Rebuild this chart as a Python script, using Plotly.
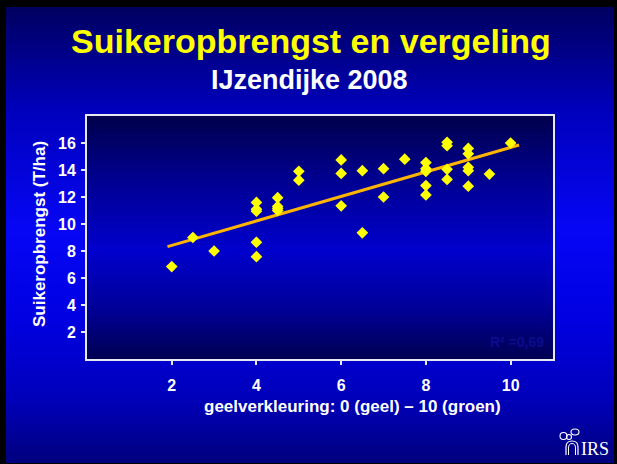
import plotly.graph_objects as go

# ---------------- data ----------------
x_vergeling = [2, 2.5, 3,
               4, 4, 4, 4, 4,
               4.5, 4.5, 4.5, 4.5,
               5, 5,
               6, 6, 6,
               6.5, 6.5,
               7, 7,
               7.5,
               8, 8, 8, 8, 8,
               8.5, 8.5, 8.5, 8.5,
               9, 9, 9, 9, 9,
               9.5,
               10]
y_opbrengst = [6.85, 9.0, 8.0,
               11.6, 11.1, 10.95, 8.65, 7.58,
               11.95, 11.3, 11.15, 11.0,
               13.9, 13.25,
               14.75, 13.75, 11.35,
               13.95, 9.35,
               14.1, 12.0,
               14.8,
               14.55, 14.1, 13.9, 12.85, 12.15,
               16.05, 15.8, 14.05, 13.3,
               15.6, 15.2, 14.2, 13.95, 12.8,
               13.7,
               16.0]
# trendline
trend_x = [1.9, 10.2]
trend_y = [8.32, 15.85]
x_tickvals = [2, 4, 6, 8, 10]
y_tickvals = [2, 4, 6, 8, 10, 12, 14, 16]
title_text = "Suikeropbrengst en vergeling"
subtitle_text = "IJzendijke 2008"
x_title = "geelverkleuring: 0 (geel) – 10 (groen)"
y_title = "Suikeropbrengst (T/ha)"
r2_text = "R² =0,69"
logo_text = "IRS"

# ---------------- layout helpers ----------------
W, H = 617, 464
L, R, T, B = 87, 64, 116, 105
PW, PH = W - L - R, H - T - B
FONT = "Liberation Sans, Arial, sans-serif"


def px(X):
    return (X - L) / PW


def py(Y):
    return (H - B - Y) / PH


def interp(stops, y):
    for (y0, c0), (y1, c1) in zip(stops[:-1], stops[1:]):
        if y0 <= y <= y1:
            t = (y - y0) / (y1 - y0)
            return tuple(int(round(a + (b - a) * t)) for a, b in zip(c0, c1))
    return stops[-1][1] if y > stops[-1][0] else stops[0][1]


shapes = []
# slide background gradient
slide_stops = [(7, (0, 0, 95)), (110, (0, 0, 188)), (230, (6, 6, 245)),
               (320, (0, 0, 225)), (400, (0, 0, 185)), (463, (0, 0, 125))]
Y = 7
while Y < 463:
    r, g, b = interp(slide_stops, Y + 1)
    shapes.append(dict(type="rect", xref="paper", yref="paper", layer="below",
                       x0=px(6), x1=px(614), y0=py(min(Y + 2.6, 463)), y1=py(Y),
                       fillcolor=f"rgb({r},{g},{b})", line=dict(width=0)))
    Y += 2
# plot-area gradient
plot_stops = [(116, (0, 0, 75)), (175, (0, 0, 140)), (250, (0, 0, 205)),
              (310, (0, 0, 150)), (360, (0, 0, 80))]
Y = 116
while Y < 359:
    r, g, b = interp(plot_stops, Y + 1)
    shapes.append(dict(type="rect", xref="paper", yref="paper", layer="below",
                       x0=0, x1=1, y0=max(py(Y + 2.6), 0), y1=py(Y),
                       fillcolor=f"rgb({r},{g},{b})", line=dict(width=0)))
    Y += 2


# IRS logo icon (simple outline drawing)
def P(a, b):
    return f"{px(a)},{py(b)}"


arch = (f"M {P(566, 455)} L {P(566, 447)} Q {P(566, 441)} {P(572, 441)} "
        f"Q {P(578, 441)} {P(578, 447)} L {P(578, 455)}")
arch_in = (f"M {P(568.5, 455)} L {P(568.5, 448)} Q {P(568.5, 443.5)} {P(572, 443.5)} "
           f"Q {P(575.5, 443.5)} {P(575.5, 448)} L {P(575.5, 455)}")
shapes.append(dict(type="path", xref="paper", yref="paper", path=arch,
                   line=dict(color="white", width=1.2)))
shapes.append(dict(type="path", xref="paper", yref="paper", path=arch_in,
                   line=dict(color="white", width=1)))
for cx, cy, rx, ry in [(563.5, 436, 3.5, 3.5), (575, 432, 4, 3), (569, 437, 2.5, 2.5)]:
    shapes.append(dict(type="circle", xref="paper", yref="paper",
                       x0=px(cx - rx), x1=px(cx + rx), y0=py(cy + ry), y1=py(cy - ry),
                       line=dict(color="white", width=1.1)))

# ---------------- figure ----------------
fig = go.Figure()
fig.add_trace(go.Scatter(x=trend_x, y=trend_y, mode="lines",
                         line=dict(color="#ffb400", width=3), hoverinfo="skip"))
fig.add_trace(go.Scatter(x=x_vergeling, y=y_opbrengst, mode="markers",
                         marker=dict(symbol="diamond", size=9, color="#ffff00",
                                     line=dict(width=0))))

annotations = [
    dict(text=f"<b>{title_text}</b>", x=px(311), y=py(41), xref="paper", yref="paper",
         showarrow=False, xanchor="center", yanchor="middle",
         font=dict(family=FONT, size=34, color="#ffff00")),
    dict(text=f"<b>{subtitle_text}</b>", x=px(309), y=py(80), xref="paper", yref="paper",
         showarrow=False, xanchor="center", yanchor="middle",
         font=dict(family=FONT, size=27, color="white")),
    dict(text=f"<b>{x_title}</b>", x=px(352), y=py(406), xref="paper", yref="paper",
         showarrow=False, xanchor="center", yanchor="middle",
         font=dict(family=FONT, size=17, color="white")),
    dict(text=f"<b>{y_title}</b>", x=px(39), y=py(234), xref="paper", yref="paper",
         showarrow=False, xanchor="center", yanchor="middle", textangle=-90,
         font=dict(family=FONT, size=17, color="white")),
    dict(text=f"<b>{r2_text}</b>", x=px(517), y=py(342), xref="paper", yref="paper",
         showarrow=False, xanchor="center", yanchor="middle",
         font=dict(family=FONT, size=14, color="#0c0c8c")),
    dict(text=logo_text, x=px(594.5), y=py(449), xref="paper", yref="paper",
         showarrow=False, xanchor="center", yanchor="middle",
         font=dict(family="Liberation Serif, Times New Roman, serif", size=18, color="white")),
]

axis_common = dict(showline=True, linecolor="#e8e8f0", linewidth=2, mirror=True,
                   ticks="outside", ticklen=4, tickwidth=1.5, tickcolor="#e8e8f0",
                   showgrid=False, zeroline=False,
                   tickfont=dict(family=FONT, size=16, color="white", weight="bold"))

fig.update_layout(
    width=W, height=H,
    margin=dict(l=L, r=R, t=T, b=B),
    paper_bgcolor="black",
    plot_bgcolor="rgba(0,0,0,0)",
    showlegend=False,
    hovermode=False,
    shapes=shapes,
    annotations=annotations,
    xaxis=dict(range=[0, 11], tickvals=x_tickvals, ticklabelstandoff=7, **axis_common),
    yaxis=dict(range=[0, 18], tickvals=y_tickvals, ticklabelstandoff=2, **axis_common),
)

fig.write_html("out.html",
               config={"displayModeBar": False},
               post_script="document.body.style.margin='0';document.body.style.overflow='hidden';")
